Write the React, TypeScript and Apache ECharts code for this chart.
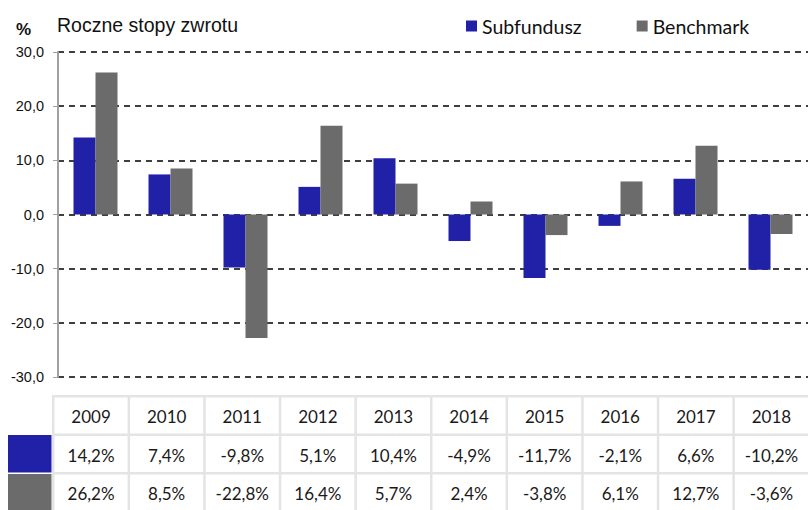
import React, { useEffect, useRef } from "react";
import * as echarts from "echarts";

const years = ["2009", "2010", "2011", "2012", "2013", "2014", "2015", "2016", "2017", "2018"];
const subfundusz = [14.2, 7.4, -9.8, 5.1, 10.4, -4.9, -11.7, -2.1, 6.6, -10.2];
const benchmark = [26.2, 8.5, -22.8, 16.4, 5.7, 2.4, -3.8, 6.1, 12.7, -3.6];
const yTicks = [-30, -20, -10, 0, 10, 20, 30];

const BLUE = "#2121a8";
const GRAY = "#6b6b6b";

const fmt = (v: number) => v.toFixed(1).replace(".", ",");

export default function App() {
  const ref = useRef<HTMLDivElement>(null);
  useEffect(() => {
    const chart = echarts.init(ref.current!, undefined, { renderer: "svg" });

    const tblLeft = 52;
    const tblRight = 808;
    const colW = (tblRight - tblLeft) / years.length;
    const rowY = [395, 433.5, 472, 511];
    const border = 2.5;
    const graphics: any[] = [];
    graphics.push({
      type: "rect",
      shape: { x: tblLeft, y: rowY[0], width: tblRight - tblLeft, height: rowY[3] - rowY[0] },
      style: { fill: "#e4e4e4" },
    });
    const rows = [years, subfundusz.map((v) => fmt(v) + "%"), benchmark.map((v) => fmt(v) + "%")];
    rows.forEach((row, r) => {
      row.forEach((txt, c) => {
        const x0 = tblLeft + c * colW + border;
        const y0 = rowY[r] + border;
        const w = colW - border;
        const h = rowY[r + 1] - rowY[r] - border;
        graphics.push({
          type: "rect",
          shape: { x: x0, y: y0, width: w, height: h },
          style: { fill: "#ffffff" },
        });
        graphics.push({
          type: "text",
          x: x0 + w / 2,
          y: y0 + h / 2 + 1,
          style: {
            text: txt,
            fill: "#1a1a1a",
            font: "17px Lato",
            textAlign: "center",
            textVerticalAlign: "middle",
          },
        });
      });
    });
    graphics.push({
      type: "rect",
      shape: { x: 8, y: 435, width: 43.5, height: 37.5 },
      style: { fill: BLUE },
    });
    graphics.push({
      type: "rect",
      shape: { x: 8, y: 474, width: 43.5, height: 37 },
      style: { fill: GRAY },
    });
    graphics.push({
      type: "text",
      x: 16,
      y: 29,
      style: { text: "%", fill: "#111", font: "bold 17px 'Liberation Sans'", textVerticalAlign: "middle" },
    });
    graphics.push({
      type: "text",
      x: 57,
      y: 25,
      style: { text: "Roczne stopy zwrotu", fill: "#111", font: "19.5px 'Liberation Sans'", textVerticalAlign: "middle" },
    });

    chart.setOption({
      animation: false,
      backgroundColor: "#ffffff",
      legend: {
        left: 461,
        top: 11,
        itemWidth: 11,
        itemHeight: 11,
        itemGap: 55,
        icon: "rect",
        textStyle: { fontFamily: "Lato", fontSize: 19.5, color: "#111" },
        data: ["Subfundusz", "Benchmark"],
      },
      grid: { left: 58, right: 0, top: 52, bottom: 133, containLabel: false },
      xAxis: {
        type: "category",
        data: years,
        axisLine: { show: false },
        axisTick: { show: false },
        axisLabel: { show: false },
      },
      yAxis: {
        type: "value",
        min: -30,
        max: 30,
        interval: 10,
        axisLine: { show: true, lineStyle: { color: "#a0a0a0", width: 2 } },
        axisTick: { show: true, length: 5, lineStyle: { color: "#a0a0a0" } },
        axisLabel: {
          formatter: (v: number) => (yTicks.includes(v) ? fmt(v) : ""),
          fontFamily: "Liberation Sans",
          fontSize: 14.5,
          color: "#111",
          margin: 14,
        },
        splitLine: { show: true, lineStyle: { color: "#000", type: [6, 5], width: 1.5 } },
      },
      series: [
        {
          name: "Subfundusz",
          type: "bar",
          data: subfundusz,
          itemStyle: { color: BLUE },
          barWidth: 22,
          barGap: "0%",
        },
        {
          name: "Benchmark",
          type: "bar",
          data: benchmark,
          itemStyle: { color: GRAY },
          barWidth: 22,
          barGap: "0%",
        },
      ],
      graphic: graphics,
    });
    return () => chart.dispose();
  }, []);
  return <div ref={ref} style={{ width: 808, height: 510, position: "absolute", left: 0, top: 0 }} />;
}
